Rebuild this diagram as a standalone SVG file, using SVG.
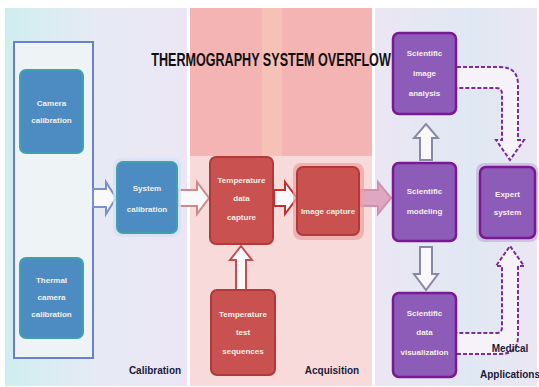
<svg xmlns="http://www.w3.org/2000/svg" width="539" height="387" viewBox="0 0 539 387">
<defs>
<style>
.lbl{font-family:"Liberation Sans",Arial,sans-serif;font-weight:bold;font-size:8px;fill:#f4f0e6;text-anchor:middle}
.cap{font-family:"Liberation Sans",Arial,sans-serif;font-weight:bold;font-size:10px;fill:#1a1a3a;text-anchor:middle}
.blue{fill:#4d8cc2;stroke:#3fa0b0;stroke-width:2}
.red{fill:#c9514f;stroke:#b03a3a;stroke-width:2}
.pur{fill:#8c5cb8;stroke:#7a1896;stroke-width:2.5}
.hollow{fill:#fbf8fb;stroke-width:2}
.dash{fill:#f6f2fa;stroke:#7a2d96;stroke-width:2;stroke-dasharray:4 2}
</style>
<linearGradient id="gCal" x1="0" x2="1" y1="0" y2="0">
<stop offset="0" stop-color="#cfeef0"/><stop offset="0.5" stop-color="#e6eaf4"/><stop offset="1" stop-color="#ece6f4"/>
</linearGradient>
<linearGradient id="gApp" x1="0" x2="1" y1="0" y2="0">
<stop offset="0" stop-color="#ece6f4"/><stop offset="0.6" stop-color="#dfe8f2"/><stop offset="1" stop-color="#ece6f4"/>
</linearGradient>
</defs>
<rect width="539" height="387" fill="#ffffff"/>
<g id="panel-calibration">
<rect x="5" y="8" width="182" height="378" fill="url(#gCal)"/>
<rect x="14" y="42" width="79" height="316" fill="#eef4f6" stroke="#6a80c8" stroke-width="2"/>
<text class="cap" x="155" y="374">Calibration</text>
</g>
<g id="panel-acquisition">
<rect x="190" y="8" width="182" height="378" fill="#f8dada"/>
<rect x="190" y="8" width="182" height="148" fill="#f5b4b4"/>
<rect x="262" y="8" width="20" height="148" fill="#f7c6b8" opacity="0.7"/>
<text class="cap" x="332" y="374">Acquisition</text>
</g>
<g id="panel-applications">
<rect x="375" y="8" width="162" height="378" fill="url(#gApp)"/>
</g>
<text transform="translate(271,66) scale(0.7,1)" x="0" y="0" font-family="'Liberation Sans',Arial,sans-serif" font-weight="bold" font-size="18" fill="#111" text-anchor="middle">THERMOGRAPHY SYSTEM OVERFLOW</text>
<g id="connectors">
<path class="hollow" stroke="#7a90c8" d="M93,189 H106 V182 L116,198 L106,214 V207 H93 Z"/>
<path class="hollow" fill="#f0d4dc" stroke="#d08888" d="M178,190 H197 V182 L209,198 L197,214 V206 H178 Z"/>
<path class="hollow" stroke="#c03030" d="M274,190 H285 V182 L297,198 L285,214 V206 H274 Z"/>
<path class="hollow" stroke="#c05050" d="M236,290 V260 H230 L241,246 L252,260 H246 V290 Z"/>
<path fill="#e0a8c0" stroke="#d090b0" stroke-width="2" d="M360,190 H378 V182 L391,198 L378,214 V206 H360 Z"/>
<path class="hollow" stroke="#8888a8" d="M420,160 V138 H414 L426,124 L438,138 H432 V160 Z"/>
<path class="hollow" stroke="#8888a8" d="M420,247 V274 H414 L426,290 L438,274 H432 V247 Z"/>
<path class="dash" d="M457,67 H500 Q518,67 518,85 V140 H524 L510,160 L496,140 H502 V94 Q502,88 496,88 H457"/>
<path class="dash" d="M457,354 H500 Q518,354 518,336 V266 H524 L510,246 L496,266 H502 V327 Q502,333 496,333 H457"/>
</g>
<g id="node-camera-calibration">
<rect class="blue" x="20" y="70" width="63" height="83" rx="6"/>
<text class="lbl" x="51.5" y="106">Camera</text><text class="lbl" x="51.5" y="123">calibration</text>
</g>
<g id="node-thermal-camera-calibration">
<rect class="blue" x="20" y="258" width="63" height="80" rx="6"/>
<text class="lbl" x="51.5" y="283">Thermal</text><text class="lbl" x="51.5" y="300">camera</text><text class="lbl" x="51.5" y="317">calibration</text>
</g>
<g id="node-system-calibration">
<rect x="113" y="158" width="68" height="79" rx="8" fill="#d8e0f4" opacity="0.8"/>
<rect class="blue" x="117" y="162" width="60" height="71" rx="6"/>
<text class="lbl" x="147" y="191">System</text><text class="lbl" x="147" y="212">calibration</text>
</g>
<g id="node-temperature-data">
<rect class="red" x="210" y="157" width="63" height="87" rx="6"/>
<text class="lbl" x="241.5" y="183">Temperature</text><text class="lbl" x="241.5" y="201">data</text><text class="lbl" x="241.5" y="220">capture</text>
</g>
<g id="node-image-capture">
<rect x="293" y="163" width="71" height="77" rx="8" fill="#f0a0a0" opacity="0.7"/>
<rect class="red" x="297" y="167" width="62" height="68" rx="6"/>
<text class="lbl" x="328" y="214">Image capture</text>
</g>
<g id="node-temperature-test">
<rect class="red" x="211" y="290" width="64" height="85" rx="6"/>
<text class="lbl" x="243" y="317">Temperature</text><text class="lbl" x="243" y="335">test</text><text class="lbl" x="243" y="354">sequences</text>
</g>
<g id="node-image-analysis">
<rect class="pur" x="393" y="33" width="63" height="81" rx="6"/>
<text class="lbl" x="424.5" y="56">Scientific</text><text class="lbl" x="424.5" y="76">image</text><text class="lbl" x="424.5" y="96">analysis</text>
</g>
<g id="node-modeling">
<rect class="pur" x="393" y="163" width="63" height="78" rx="6"/>
<text class="lbl" x="424.5" y="194">Scientific</text><text class="lbl" x="424.5" y="214">modeling</text>
</g>
<g id="node-visualization">
<rect class="pur" x="393" y="293" width="63" height="84" rx="6"/>
<text class="lbl" x="424.5" y="316">Scientific</text><text class="lbl" x="424.5" y="335">data</text><text class="lbl" x="424.5" y="355">visualization</text>
</g>
<g id="node-expert-system">
<rect x="476" y="163" width="62" height="79" rx="8" fill="#c8b8dc" opacity="0.8"/>
<rect class="pur" x="480" y="167" width="55" height="71" rx="6"/>
<text class="lbl" x="507.5" y="197">Expert</text><text class="lbl" x="507.5" y="215">system</text>
</g>
<g id="label-medical">
<text class="cap" x="510" y="352">Medical</text>
<text class="cap" x="510" y="378">Applications</text>
</g>
</svg>
